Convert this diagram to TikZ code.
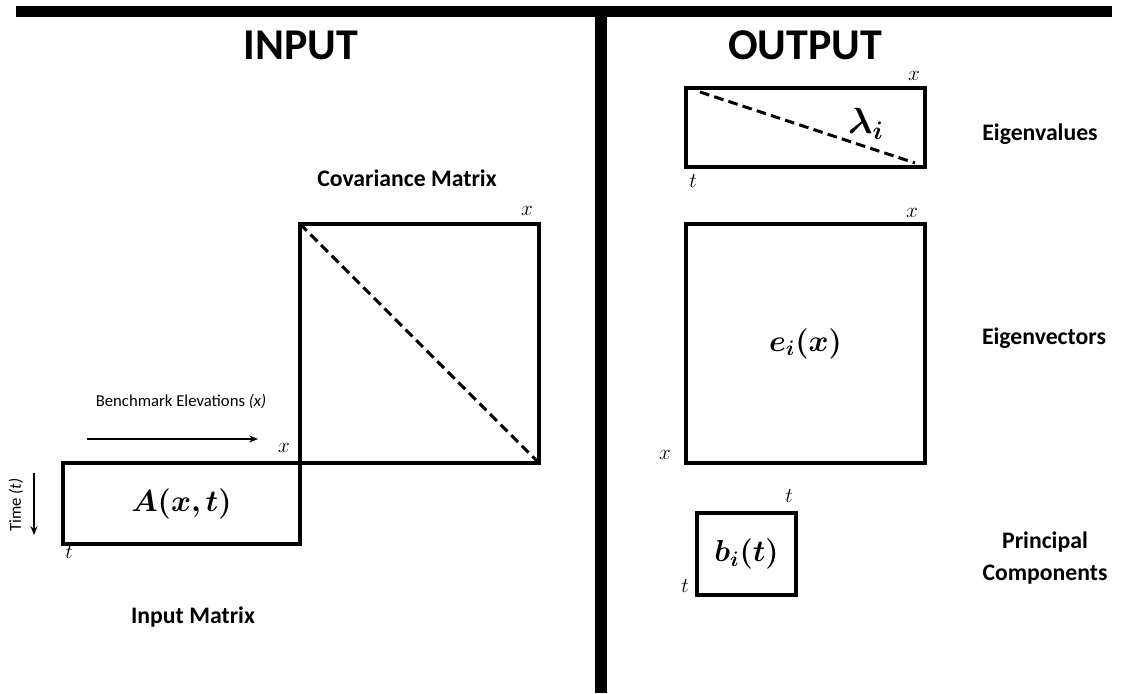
\documentclass[tikz,border=0pt]{standalone}
\usepackage{fontspec}
\usepackage{amsmath}
\usepackage{bm}
\setmainfont{Carlito}
\usetikzlibrary{positioning,arrows.meta,calc}

\begin{document}
\begin{tikzpicture}[
    x=0.02cm, y=-0.02cm,
    mat/.style={draw, rectangle, line width=2.3pt, inner sep=0pt, outer sep=0pt},
    diag/.style={line width=1.7pt, dash pattern=on 5.5pt off 3pt},
    bar/.style={line width=6.5pt},
    head/.style={font=\fontsize{25}{30}\selectfont\bfseries},
    title/.style={font=\fontsize{13.5}{18}\selectfont\bfseries, align=center},
    lbl/.style={font=\fontsize{13}{15}\selectfont, inner sep=1pt},
    eq/.style={font=\fontsize{18}{22}\selectfont},
    small/.style={font=\fontsize{9.5}{11}\selectfont},
    arrow/.style={-{Stealth[length=5pt,width=4pt]}, line width=1.1pt}
]
\useasboundingbox (0,0) rectangle (1128,693);

% Trennlinien
\coordinate (barl) at (16,11.5);
\coordinate (barr) at (1112,11.5);
\coordinate (midtop) at (601,11.5);
\coordinate (midbot) at (601,693);
\draw[bar] (barl) -- (barr);
\draw[bar] (midtop) -- (midbot);

\node[head] (input) at (301,45) {INPUT};
\node[head] (output) at (805,45) {OUTPUT};

% Eingabe: Kovarianzmatrix und Datenmatrix
\node[mat, minimum width=239*0.02cm, minimum height=239*0.02cm] (cov) at (419.5,343.5) {};
\node[mat, eq, font=\fontsize{19}{23}\selectfont, anchor=north east, minimum width=237*0.02cm, minimum height=81*0.02cm] (amat) at (cov.south west) {$\bm{A(x,t)}$};
\draw[diag] (cov.north west) -- (cov.south east);

\node[title] (covtitle) at (407,178) {Covariance Matrix};
\node[lbl] (covx) at (527,211) {$x$};
\node[lbl] (ax) at (284,448) {$x$};
\node[lbl] (at) at (69,552) {$t$};
\node[title] (inputtitle) at (193,617) {Input Matrix};

\node[small] (bench) at (181,402) {Benchmark Elevations \textit{(x)}};
\coordinate (benchs) at (87,439);
\coordinate (benche) at (258,439);
\draw[arrow] (benchs) -- (benche);

\node[small, rotate=90] (time) at (16,505) {Time \textit{(t)}};
\coordinate (times) at (34,473);
\coordinate (timee) at (34,535);
\draw[arrow] (times) -- (timee);

% Ausgabe
\node[mat, minimum width=239*0.02cm, minimum height=79*0.02cm] (eigval) at (805.5,127.5) {};
\coordinate (dvs) at (700,92);
\coordinate (dve) at (915,163);
\draw[diag] (dvs) -- (dve);
\node[eq, font=\fontsize{21}{24}\selectfont] (lam) at (866,124) {$\bm{\lambda_i}$};
\node[lbl] (valx) at (914,76) {$x$};
\node[lbl] (valt) at (693,181) {$t$};
\node[title] (valtitle) at (1040,134) {Eigenvalues};

\node[mat, eq, minimum width=239*0.02cm, minimum height=239*0.02cm] (eigvec) at (805.5,343.5) {$\bm{e_i(x)}$};
\node[lbl] (vecx) at (912,213) {$x$};
\node[lbl] (vecxl) at (665,455) {$x$};
\node[title] (vectitle) at (1044,338) {Eigenvectors};

\node[mat, eq, minimum width=99*0.02cm, minimum height=82*0.02cm] (pc) at (746.5,554) {$\bm{b_i(t)}$};
\node[lbl] (pct) at (789,496) {$t$};
\node[lbl] (pctl) at (685,586) {$t$};
\node[title] (pctitle) at (1045,558) {Principal\\Components};

\end{tikzpicture}
\end{document}
